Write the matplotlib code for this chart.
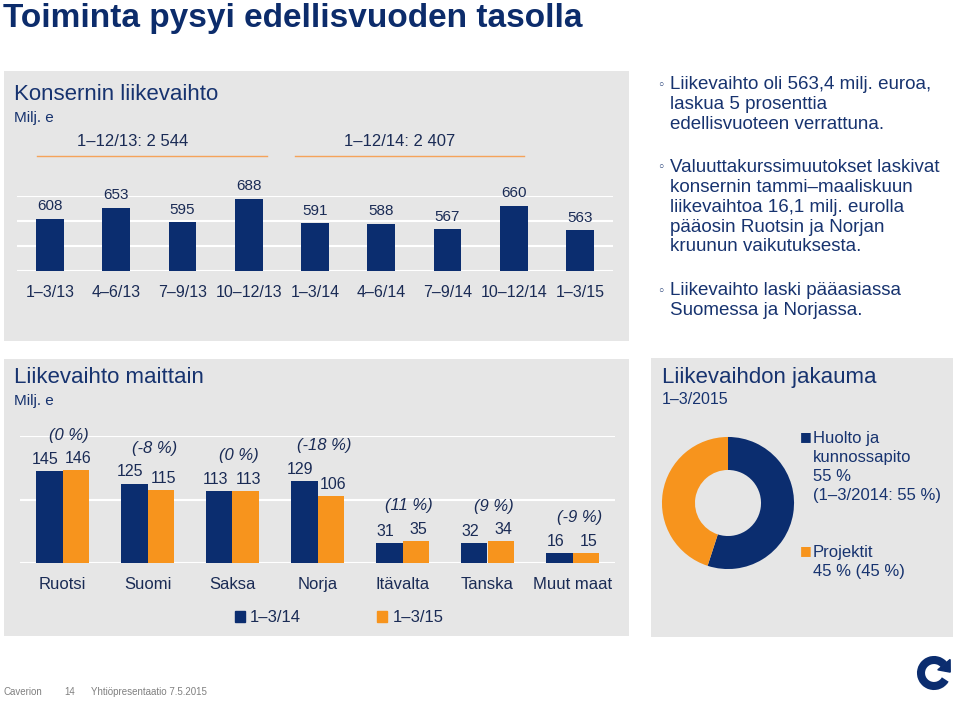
import matplotlib

matplotlib.use("Agg")
import matplotlib.pyplot as plt
from matplotlib.patches import Rectangle, Patch, Arc, Polygon
import numpy as np

plt.rcParams["font.family"] = ["Liberation Sans", "DejaVu Sans"]

# --- data -----------------------------------------------------------------
quarters = ["1–3/13", "4–6/13", "7–9/13", "10–12/13", "1–3/14",
            "4–6/14", "7–9/14", "10–12/14", "1–3/15"]
quarter_sales = [608, 653, 595, 688, 591, 588, 567, 660, 563]
year_totals = ["1–12/13: 2 544", "1–12/14: 2 407"]

countries = ["Ruotsi", "Suomi", "Saksa", "Norja", "Itävalta", "Tanska", "Muut maat"]
sales_q1_14 = [145, 125, 113, 129, 31, 32, 16]
sales_q1_15 = [146, 115, 113, 106, 35, 34, 15]
change_pct = ["(0 %)", "(-8 %)", "(0 %)", "(-18 %)", "(11 %)", "(9 %)", "(-9 %)"]
series_names = ["1–3/14", "1–3/15"]

split_labels = ["Huolto ja\nkunnossapito\n55 %\n(1–3/2014: 55 %)", "Projektit\n45 % (45 %)"]
split_values = [55, 45]

bullets = [
    "Liikevaihto oli 563,4 milj. euroa,\nlaskua 5 prosenttia\nedellisvuoteen verrattuna.",
    "Valuuttakurssimuutokset laskivat\nkonsernin tammi–maaliskuun\nliikevaihtoa 16,1 milj. eurolla\npääosin Ruotsin ja Norjan\nkruunun vaikutuksesta.",
    "Liikevaihto laski pääasiassa\nSuomessa ja Norjassa.",
]

NAVY = "#0B2D6F"
ORANGE = "#F7941D"
TEXT = "#17336F"
PANEL = "#E6E6E6"

W, H = 960, 701


def fx(px):
    return px / W


def fy(py):
    return 1 - py / H


def box(x0, y0, x1, y1):
    return [fx(x0), fy(y1), (x1 - x0) / W, (y1 - y0) / H]


fig = plt.figure(figsize=(9.6, 7.01), dpi=100)
fig.patch.set_facecolor("white")

for x0, y0, x1, y1 in [(4, 71, 629, 341), (4, 359, 629, 636), (651, 358, 953, 637)]:
    fig.patches.append(Rectangle((fx(x0), fy(y1)), (x1 - x0) / W, (y1 - y0) / H,
                                 transform=fig.transFigure, facecolor=PANEL,
                                 edgecolor="none", zorder=-1))

fig.text(fx(3), fy(18), "Toiminta pysyi edellisvuoden tasolla", fontsize=24,
         fontweight="bold", color="#0C2C6B", va="center", ha="left")

# --- top: quarterly sales --------------------------------------------------
ax1 = fig.add_axes(box(17, 196, 613, 271))
ax1.set_facecolor("none")
x = np.arange(len(quarters))
ax1.bar(x, quarter_sales, width=0.42, color=NAVY, zorder=3)
for xi, v in zip(x, quarter_sales):
    ax1.annotate(f"{v}", (xi, v), xytext=(0, 4), textcoords="offset points",
                 ha="center", va="bottom", fontsize=11, color="#1A2B55")
ax1.set_ylim(400, 700)
ax1.set_xlim(-0.5, len(quarters) - 0.5)
ax1.set_yticks([400, 500, 600, 700])
ax1.yaxis.grid(True, color="white", lw=1.5)
ax1.set_axisbelow(True)
ax1.set_xticks(x, quarters)
ax1.tick_params(axis="x", length=0, pad=10, labelsize=11.5, labelcolor="#1A2B55")
ax1.tick_params(axis="y", left=False, labelleft=False)
for s in ax1.spines.values():
    s.set_visible(False)

# year totals with orange rules
for (xa, xb), xt, label in zip([(-0.2, 3.27), (3.7, 7.16)], [1.24, 5.28], year_totals):
    ax1.plot([xa, xb], [860, 860], color="#F5A35A", lw=1.0, clip_on=False)
    ax1.text(xt, 916, label, ha="center", va="center", fontsize=12, color="#1A2B55",
             clip_on=False)

fig.text(fx(14), fy(95), "Konsernin liikevaihto", fontsize=16, color=TEXT, va="center")
fig.text(fx(14), fy(118), "Milj. e", fontsize=11, color=TEXT, va="center")

# --- right: bullet text ------------------------------------------------------
for y0, txt in zip([76, 159, 282], bullets):
    fig.text(fx(657), fy(y0 + 9), "◦", fontsize=9, color=TEXT, va="center",
             family="DejaVu Sans")
    fig.text(fx(670), fy(y0), txt, fontsize=13.5, color=TEXT, va="top",
             linespacing=1.22)

# --- bottom-left: sales by country -------------------------------------------
ax2 = fig.add_axes(box(20, 436, 615, 563))
ax2.set_facecolor("none")
xc = np.arange(len(countries))
bw = 0.31
ax2.bar(xc - bw / 2, sales_q1_14, width=bw, color=NAVY, zorder=3, label=series_names[0])
ax2.bar(xc + bw / 2, sales_q1_15, width=bw, color=ORANGE, zorder=3, label=series_names[1])
for xi, a, b, p in zip(xc, sales_q1_14, sales_q1_15, change_pct):
    ax2.annotate(f"{a}", (xi - bw / 2, a), xytext=(-3, 3), textcoords="offset points",
                 ha="center", va="bottom", fontsize=11.5, color="#1A2B55")
    ax2.annotate(f"{b}", (xi + bw / 2, b), xytext=(2, 3), textcoords="offset points",
                 ha="center", va="bottom", fontsize=11.5, color="#1A2B55")
    ax2.annotate(p, (xi + 0.08, max(a, b)), xytext=(0, 20), textcoords="offset points",
                 ha="center", va="bottom", fontsize=12, style="italic", color="#1A2B55")
ax2.set_ylim(0, 200)
ax2.set_xlim(-0.5, len(countries) - 0.5)
ax2.set_yticks([0, 100, 200])
ax2.yaxis.grid(True, color="white", lw=1.5)
ax2.set_axisbelow(True)
ax2.set_xticks(xc, countries)
ax2.tick_params(axis="x", length=0, pad=10, labelsize=12, labelcolor="#1A2B55")
ax2.tick_params(axis="y", left=False, labelleft=False)
for s in ax2.spines.values():
    s.set_visible(False)
ax2.legend(handles=[Patch(color=NAVY, label=series_names[0]),
                    Patch(color=ORANGE, label=series_names[1])],
           loc="center", bbox_to_anchor=(fx(339), fy(618)),
           bbox_transform=fig.transFigure, ncol=2, frameon=False, fontsize=12,
           handlelength=0.6, handleheight=0.6, handletextpad=0.3,
           columnspacing=4.6, labelcolor="#1A2B55")

fig.text(fx(14), fy(378), "Liikevaihto maittain", fontsize=16, color=TEXT, va="center")
fig.text(fx(14), fy(401), "Milj. e", fontsize=11, color=TEXT, va="center")

# --- bottom-right: donut ------------------------------------------------------
ax3 = fig.add_axes(box(658, 433, 798, 573))
ax3.pie(split_values, colors=[NAVY, ORANGE], startangle=90, counterclock=False,
        radius=1, wedgeprops=dict(width=0.5, edgecolor="none"))
ax3.set_xlim(-1.06, 1.06)
ax3.set_ylim(-1.06, 1.06)
ax3.set_aspect("equal")
ax3.axis("off")

for y0, col, lab in zip([437, 551], [NAVY, ORANGE], split_labels):
    fig.text(fx(800), fy(y0), "■", fontsize=9, color=col, va="center",
             family="DejaVu Sans")
    fig.text(fx(813), fy(y0 - 6), lab, fontsize=12, color=TEXT, va="top",
             linespacing=1.32)

fig.text(fx(662), fy(378), "Liikevaihdon jakauma", fontsize=16, color=TEXT, va="center")
fig.text(fx(662), fy(399), "1–3/2015", fontsize=11.5, color=TEXT, va="center")

# --- footer ------------------------------------------------------------------
fig.text(fx(3), fy(692), "Caverion", fontsize=7, color="#808080", va="center")
fig.text(fx(64), fy(692), "14", fontsize=7, color="#808080", va="center")
fig.text(fx(91), fy(692), "Yhtiöpresentaatio 7.5.2015", fontsize=7, color="#808080",
         va="center")

# logo
axl = fig.add_axes(box(914, 653, 954, 693))
axl.set_xlim(-1.54, 1.54)
axl.set_ylim(-1.54, 1.54)
axl.set_aspect("equal")
axl.axis("off")
axl.add_patch(Arc((0, 0), 2, 2, theta1=40, theta2=330, lw=5.8, color=NAVY))
ang = np.deg2rad(40)
P = np.array([np.cos(ang), np.sin(ang)])
n = P
t = np.array([np.sin(ang), -np.cos(ang)])
axl.add_patch(Polygon([P + 0.62 * n, P - 0.62 * n, P + 0.75 * t], closed=True,
                      color=NAVY))

fig.savefig("out.png", dpi=100)
